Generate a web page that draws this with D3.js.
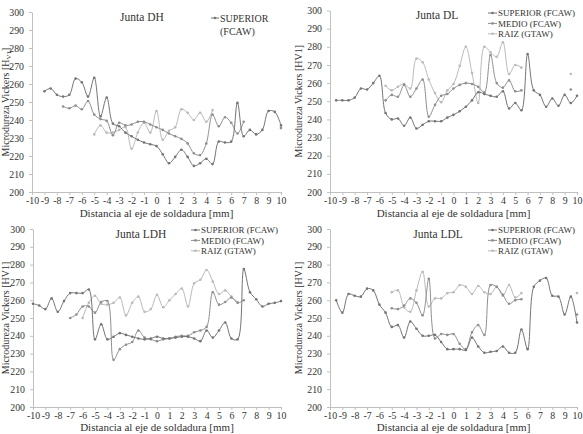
<!DOCTYPE html>
<html><head><meta charset="utf-8">
<script src="https://cdn.jsdelivr.net/npm/d3@7/dist/d3.min.js"></script>
<style>
body{margin:0;background:#fff}
svg{display:block}
text{font-family:"Liberation Serif","Times New Roman",serif;fill:#333}
</style>
</head><body><svg width="583" height="434"></svg>
<script>
const N = null;
// x positions (mm) of the measurement points
const xPos = [-10,-9.5,-9,-8.5,-8,-7.5,-7,-6.5,-6,-5.5,-5,-4.5,-4,-3.5,-3,-2.5,-2,-1.5,-1,-0.5,0,0.5,1,1.5,2,2.5,3,3.5,4,4.5,5,5.5,6,6.5,7,7.5,8,8.5,9,9.5,10];
const xTicks = [-10,-9,-8,-7,-6,-5,-4,-3,-2,-1,0,1,2,3,4,5,6,7,8,9,10];
const yTicks = [200,210,220,230,240,250,260,270,280,290,300];
const seriesNames = ["SUPERIOR (FCAW)","MEDIO (FCAW)","RAIZ (GTAW)"];
const panelTitles = ["Junta DH","Junta DL","Junta LDH","Junta LDL"];

// Junta DH
const dhSuperior = [N,N,256,257.5,254,253,254,263,261,253,263.5,242,252.5,238,236.5,233,231,229,227.5,226.5,225.5,221,216,219.5,223.5,219.5,214.5,216,218.5,215.5,228,227.5,228,249.5,231,234.5,232,234.5,245,244.5,237];
const dhMedio    = [N,N,N,N,N,247.5,246.5,248,246,250.5,243,240.5,239.5,231.5,238.5,237,237.5,239,239,237.5,236,234.5,232.5,231,229.5,227,221.5,220.5,227,243,236.5,241.5,238.5,232.5,239,N,N,N,N,N,235.5];
const dhRaiz     = [N,N,N,N,N,N,N,N,N,N,232,237,233,233,234.5,236,224,233,238.5,233,245,229,234,236,246,244,240,244,239,245.5,N,N,N,N,N,N,N,N,N,N,N];
// Junta DL
const dlSuperior = [N,250.5,250.5,250.5,252,257,256.5,260,264,243.5,240,240.5,236.5,241,235,237,239,239,239,241,242.5,244.5,247,250.5,255,254,253,252.5,255.5,246,249,245,276,256,253.5,247,251.5,247.5,253.5,249,253];
const dlMedio    = [N,N,N,N,N,N,N,N,N,250.5,253.5,252.5,259,252.5,257,262,241.5,248,253,254,257,259,260,259.5,258,255,275.5,260,257.5,261.5,255.5,256,N,N,N,N,N,N,N,256.5,N];
const dlRaiz     = [N,N,N,N,N,N,N,N,N,258.5,256,258,259.5,257,273.5,271.5,262,254.5,249.5,256,259.5,269.5,280,265.5,249,280,277,274.5,282.5,265,270,268.5,N,N,N,N,N,N,N,265,N];
// Junta LDH
const ldhSuperior = [258,257,255,261,253.5,259.5,264,264,264,266,238,246.5,238,239.5,241.5,240.5,239.5,238.5,238,238.5,239.5,238.5,238.5,239,239.5,239.5,238.5,237,243,239,243,247.5,238.5,238,277.5,264.5,260.5,256.5,258,258.5,259.5];
const ldhMedio    = [N,N,N,N,N,N,250,252,256.5,256.5,253,259,259.5,226.5,232.5,235,236.5,243,239,238,237,238,238.5,239.5,240,240,242,243,245,264.5,257.5,259,261.5,258.5,260,N,N,N,N,N,N];
const ldhRaiz     = [N,N,N,N,N,N,N,N,250,258.5,262.5,258,257.5,258.5,261.5,251.5,258.5,262,253.5,255,263,256,260,263.5,266.5,256.5,269.5,271.5,277,270.5,263.5,265.5,262,259,N,N,N,N,N,N,N];
// Junta LDL
const ldlSuperior = [N,260,253,263.5,262.5,262,266.5,265.5,257.5,253,245,246,239,248,244,240,240,240.5,236.5,232.5,232.5,232.5,232,239,234,230.5,231,231.5,234,230.5,230.5,243.5,232.5,267.5,271,272.5,262.5,262,252,262,247.5];
const ldlMedio    = [N,N,N,N,N,N,N,N,N,N,255.5,255,257,261,258.5,251.5,272,238.5,241,240.5,241,235.5,232.5,242,246,240.5,268.5,267.5,263,258,260,260.5,N,N,N,N,N,N,N,N,252];
const ldlRaiz     = [N,N,N,N,N,N,N,N,N,N,264.5,265.5,256,253.5,265.5,276,256.5,261,261,264,264.5,268.5,267.5,263.5,268,264.5,263.5,267.5,262.5,268.5,261.5,264,N,N,N,N,N,N,N,N,264];

// ---- layout / style (not data) ----
const seriesColors = ["#747474","#8f8f8f","#bababa"];
const panels = [
  {title:panelTitles[0], box:{l:32,r:281,t:12,b:192}, data:[dhSuperior,dhMedio,dhRaiz], titleX:142, sub:true,
   legend:{x:211, y:18, twoLine:true}, yTitleX:9, xTitleY:216.5},
  {title:panelTitles[1], box:{l:330,r:577,t:10.5,b:192}, data:[dlSuperior,dlMedio,dlRaiz], titleX:437, sub:false,
   legend:{x:488, y:13, twoLine:false}, yTitleX:302, xTitleY:216.5},
  {title:panelTitles[2], box:{l:33,r:281,t:229,b:407}, data:[ldhSuperior,ldhMedio,ldhRaiz], titleX:141, sub:false,
   legend:{x:191, y:230, twoLine:false}, yTitleX:9, xTitleY:431},
  {title:panelTitles[3], box:{l:330,r:577,t:229,b:407}, data:[ldlSuperior,ldlMedio,ldlRaiz], titleX:438, sub:false,
   legend:{x:488, y:230, twoLine:false}, yTitleX:302, xTitleY:431}
];

const svg = d3.select("svg");

panels.forEach(p => {
  const g = svg.append("g");
  const x = d3.scaleLinear().domain([-10,10]).range([p.box.l,p.box.r]);
  const y = d3.scaleLinear().domain([200,300]).range([p.box.b,p.box.t]);

  const xa = g.append("g").attr("transform",`translate(0,${p.box.b})`)
    .call(d3.axisBottom(x).tickValues(xTicks).tickSize(3).tickSizeOuter(0).tickPadding(2).tickFormat(d => String(d)));
  const ya = g.append("g").attr("transform",`translate(${p.box.l},0)`)
    .call(d3.axisLeft(y).tickValues(yTicks).tickSize(3).tickSizeOuter(0).tickPadding(5).tickFormat(d => String(d)));
  [xa,ya].forEach(a=>{
    a.select(".domain").attr("stroke","#c0c0c0");
    a.selectAll(".tick line").attr("stroke","#c0c0c0");
    a.selectAll(".tick text").attr("font-size","9.8px").attr("fill","#333")
      .style("font-family",'"Liberation Serif","Times New Roman",serif');
  });

  // titles
  g.append("text").attr("x",p.titleX).attr("y",p.box.t+8.5).attr("text-anchor","middle")
    .attr("font-size","11.5px").text(p.title);
  g.append("text").attr("x",(p.box.l+p.box.r)/2).attr("y",p.xTitleY).attr("text-anchor","middle")
    .attr("font-size","11px").text("Distancia al eje de soldadura [mm]");
  const yt = g.append("text").attr("transform",`translate(${p.yTitleX},${(p.box.t+p.box.b)/2}) rotate(-90)`)
    .attr("text-anchor","middle").attr("font-size","10px");
  if (p.sub) {
    yt.append("tspan").text("Microdureza Vickers [H");
    yt.append("tspan").attr("font-size","7px").attr("dy","2").text("V1");
    yt.append("tspan").attr("dy","-2").text("]");
  } else {
    yt.text("Microdureza Vickers [HV1]");
  }

  // series
  const line = d3.line().defined(d=>d.v!=null).x(d=>x(d.x)).y(d=>y(d.v)).curve(d3.curveCatmullRom.alpha(0.5));
  [2,1,0].forEach(si => {
    const pts = xPos.map((xv,i)=>({x:xv, v:p.data[si][i]}));
    g.append("path").datum(pts).attr("d",line).attr("fill","none")
      .attr("stroke",seriesColors[si]).attr("stroke-width",1);
    g.selectAll(null).data(pts.filter(d=>d.v!=null)).join("circle")
      .attr("cx",d=>x(d.x)).attr("cy",d=>y(d.v)).attr("r",1.3).attr("fill",seriesColors[si]);
  });

  // legend
  const lg = g.append("g");
  if (p.legend.twoLine) {
    const ly = p.legend.y;
    lg.append("line").attr("x1",p.legend.x).attr("x2",p.legend.x+8).attr("y1",ly).attr("y2",ly)
      .attr("stroke",seriesColors[0]).attr("stroke-width",1);
    lg.append("circle").attr("cx",p.legend.x+4).attr("cy",ly).attr("r",1.3).attr("fill",seriesColors[0]);
    const parts = seriesNames[0].split(" ");
    lg.append("text").attr("x",p.legend.x+9).attr("y",ly+3.5).attr("font-size","10px").text(parts[0]);
    lg.append("text").attr("x",p.legend.x+9).attr("y",ly+16.5).attr("font-size","10px").text(parts[1]);
  } else {
    seriesNames.forEach((nm,i)=>{
      const ly = p.legend.y + i*10.4;
      lg.append("line").attr("x1",p.legend.x).attr("x2",p.legend.x+9).attr("y1",ly).attr("y2",ly)
        .attr("stroke",seriesColors[i]).attr("stroke-width",1);
      lg.append("circle").attr("cx",p.legend.x+4.5).attr("cy",ly).attr("r",1.3).attr("fill",seriesColors[i]);
      lg.append("text").attr("x",p.legend.x+10).attr("y",ly+3.2).attr("font-size","9px").text(nm);
    });
  }
});
</script>
</body></html>
